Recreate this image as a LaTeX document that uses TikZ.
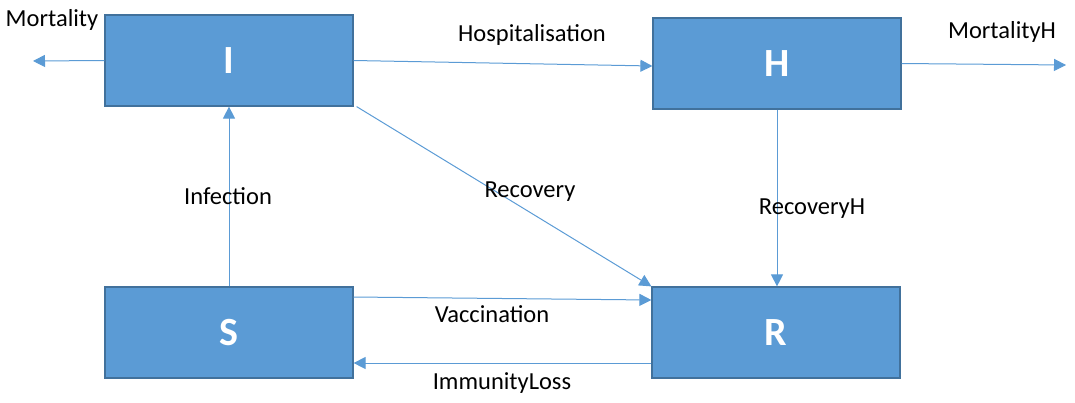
\documentclass[tikz,border=0pt]{standalone}
\usepackage{fontspec}
\setmainfont{Carlito}
\usetikzlibrary{arrows.meta,calc}
\definecolor{boxfill}{HTML}{5B9BD5}
\definecolor{boxdraw}{HTML}{41719C}
\definecolor{arrowc}{HTML}{5B9BD5}
\tikzset{
  compartment/.style={draw=boxdraw, line width=1.2pt, fill=boxfill, minimum width=248pt, minimum height=91pt, inner sep=0pt, text=white, font=\fontsize{40}{44}\selectfont\bfseries},
  flow/.style={draw=arrowc, line width=1pt, -{Triangle[length=12pt,width=12pt]}},
  lbl/.style={font=\fontsize{24.5}{28}\selectfont, text=black, inner sep=0pt}
}
\begin{document}
\begin{tikzpicture}[x=1pt,y=-1pt]
\useasboundingbox (0,0) rectangle (1075,402);
\node[compartment] (I) at (229,60.5) {I};
\node[compartment] (H) at (777,63.5) {H};
\node[compartment] (S) at (229,332.5) {S};
\node[compartment] (R) at (776,332.5) {R};
\coordinate (mI) at (33,61);
\coordinate (mH) at (1066,65);
\draw[flow] (I.west) -- (mI);
\draw[flow] (I.east) -- ([yshift=-2.5pt]H.west);
\draw[flow] (H.east) -- (mH);
\draw[flow] ([xshift=3pt]I.south east) -- (R.north west);
\draw[flow] (H.south) -- ([xshift=1pt]R.north);
\draw[flow] (S.north) -- (I.south);
\draw[flow] ([yshift=35.5pt]S.east) -- ([yshift=32.5pt]R.west);
\draw[flow] ([yshift=-30.5pt]R.west) -- ([yshift=-30.5pt]S.east);
\node[lbl] (tM) at (52,20) {Mortality};
\node[lbl] (tHo) at (532,35) {Hospitalisation};
\node[lbl] (tMH) at (1002,32) {MortalityH};
\node[lbl] (tRe) at (530,192) {Recovery};
\node[lbl] (tRH) at (812,209) {RecoveryH};
\node[lbl] (tIn) at (228,196) {Infection};
\node[lbl] (tVa) at (492,314) {Vaccination};
\node[lbl] (tIL) at (502,383) {ImmunityLoss};
\end{tikzpicture}
\end{document}
